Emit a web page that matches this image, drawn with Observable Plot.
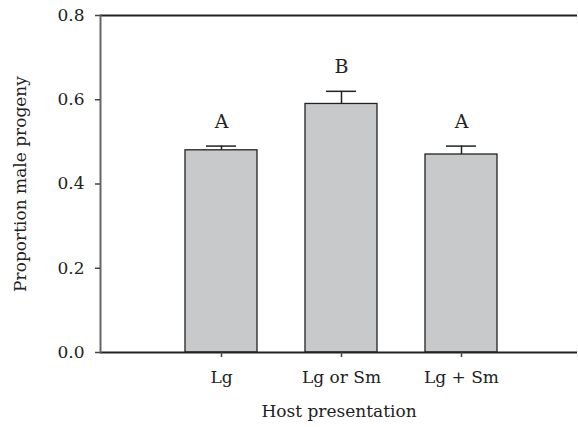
<!DOCTYPE html>
<html>
<head>
<meta charset="utf-8">
<script src="https://cdn.jsdelivr.net/npm/d3@7"></script>
<script src="https://cdn.jsdelivr.net/npm/@observablehq/plot@0.6"></script>
<style>
  html, body { margin: 0; padding: 0; background: #fff; }
  #chart { width: 578px; height: 427px; }
</style>
</head>
<body>
<div id="chart"></div>
<script>
const categories = ["Lg", "Lg or Sm", "Lg + Sm"];
const means = [0.48, 0.59, 0.47];
const errors = [0.01, 0.03, 0.02];
const letters = ["A", "B", "A"];
const yTicks = [0.0, 0.2, 0.4, 0.6, 0.8];
const xTitle = "Host presentation";
const yTitle = "Proportion male progeny";

const data = categories.map((c, i) => ({cat: c, mean: means[i], top: means[i] + errors[i], letter: letters[i]}));

const font = "DejaVu Serif";

const chart = Plot.plot({
  width: 578,
  height: 427,
  marginLeft: 100,
  marginRight: 1,
  marginTop: 15,
  marginBottom: 75,
  style: {fontFamily: "DejaVu Serif", fontSize: "17px", color: "#222", background: "#fff"},
  x: {domain: categories, range: [160, 522], paddingInner: 0.4, paddingOuter: 0.2},
  y: {domain: [0, 0.8]},
  marks: [
    Plot.barY(data, {x: "cat", y: "mean", fill: "#c8c9cb", stroke: "#222", strokeWidth: 1.3}),
    Plot.ruleX(data, {x: "cat", y1: "mean", y2: "top", stroke: "#222", strokeWidth: 1.5}),
    Plot.tickY(data, {x: "cat", y: "top", stroke: "#222", strokeWidth: 1.5, insetLeft: 21, insetRight: 21}),
    Plot.text(data, {x: "cat", y: "top", text: "letter", dy: -24, fontSize: 19, fontFamily: font, fill: "#222"}),
    Plot.ruleY([0.8], {stroke: "#222", strokeWidth: 2}),
    Plot.ruleY([0], {stroke: "#222", strokeWidth: 2}),
    Plot.frame({anchor: "left", stroke: "#666", strokeWidth: 2}),
    Plot.axisY({ticks: yTicks, tickFormat: d3.format(".1f"), tickSize: 5, tickPadding: 11, stroke: "#444", strokeWidth: 1.5, label: null, fontSize: 17, fontFamily: font, fill: "#222"}),
    Plot.axisX({tickSize: 5, tickPadding: 13, stroke: "#444", strokeWidth: 1.5, label: null, fontSize: 17, fontFamily: font, fill: "#222"}),
    Plot.text([xTitle], {frameAnchor: "bottom", dy: 64, fontSize: 17, fontFamily: font, fill: "#222"}),
    Plot.text([yTitle], {frameAnchor: "left", textAnchor: "middle", dx: -80, rotate: -90, fontSize: 17, fontFamily: font, fill: "#222"})
  ]
});
document.getElementById("chart").appendChild(chart);
</script>
</body>
</html>
